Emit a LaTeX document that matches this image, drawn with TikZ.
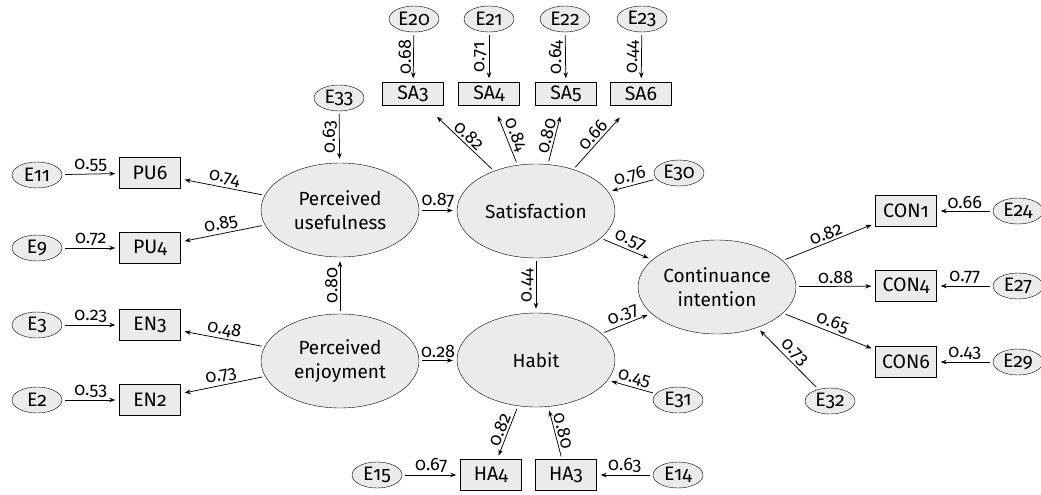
\documentclass[tikz,border=0pt]{standalone}
\usepackage{fontspec}
\setmainfont{Fira Sans}[Numbers=OldStyle]
\usetikzlibrary{arrows.meta,shapes.geometric}
\definecolor{shade}{HTML}{EBEBEB}
\tikzset{
  lat/.style={ellipse, draw, fill=shade, minimum width=158pt, minimum height=94pt, inner sep=0pt, align=center, font=\fontsize{19}{24}\selectfont},
  obs/.style={rectangle, draw, fill=shade, minimum width=61pt, minimum height=31pt, inner sep=0pt, font=\fontsize{19.5}{19.5}\selectfont},
  sobs/.style={obs, minimum height=23pt},
  err/.style={ellipse, draw, fill=shade, minimum width=50pt, minimum height=26pt, inner sep=0pt, font=\fontsize{19.5}{19.5}\selectfont},
  arr/.style={draw, line width=0.75pt, -{Stealth[length=6pt,width=4.5pt]}, shorten >=4pt, shorten <=3pt},
  lab/.style={font=\fontsize{18}{18}\selectfont, inner sep=2pt},
}
\begin{document}
\begin{tikzpicture}[x=1pt,y=-1pt]
\useasboundingbox (0,0) rectangle (1041,495);
% latent
\node[lat] (PU) at (340,210) {Perceived\\usefulness};
\node[lat] (SAT) at (536,211) {Satisfaction};
\node[lat] (CI) at (717,287) {Continuance\\intention};
\node[lat] (PE) at (340,361) {Perceived\\enjoyment};
\node[lat] (HAB) at (536,360) {Habit};
% observed
\node[obs] (PU6) at (150,173) {PU6};
\node[obs] (PU4) at (150,248) {PU4};
\node[obs] (EN3) at (150,325) {EN3};
\node[obs] (EN2) at (150,400) {EN2};
\node[sobs] (SA3) at (413,94) {SA3};
\node[sobs] (SA4) at (489,94) {SA4};
\node[sobs] (SA5) at (566,94) {SA5};
\node[sobs] (SA6) at (641,94) {SA6};
\node[obs] (CON1) at (906,211) {CON1};
\node[obs] (CON4) at (906,286) {CON4};
\node[obs] (CON6) at (906,362) {CON6};
\node[obs] (HA4) at (491,475) {HA4};
\node[obs] (HA3) at (566,475) {HA3};
% errors
\node[err] (E11) at (37,175) {E11};
\node[err] (E9) at (37,248) {E9};
\node[err] (E3) at (37,325) {E3};
\node[err] (E2) at (37,400) {E2};
\node[err] (E33) at (339,98) {E33};
\node[err] (E20) at (414,19) {E20};
\node[err] (E21) at (489,19) {E21};
\node[err] (E22) at (565,19) {E22};
\node[err] (E23) at (642,19) {E23};
\node[err] (E30) at (679,173) {E30};
\node[err] (E31) at (678,400) {E31};
\node[err] (E32) at (830,401) {E32};
\node[err] (E24) at (1018,211) {E24};
\node[err] (E27) at (1018,286) {E27};
\node[err] (E29) at (1018,362) {E29};
\node[err] (E15) at (377,475) {E15};
\node[err] (E14) at (678,475) {E14};
% error arrows
\draw[arr] (E11) -- node[lab,above]{0.55} (PU6);
\draw[arr] (E9) -- node[lab,above]{0.72} (PU4);
\draw[arr] (E3) -- node[lab,above]{0.23} (EN3);
\draw[arr] (E2) -- node[lab,above]{0.53} (EN2);
\draw[arr] (E33) -- node[lab,rotate=90,anchor=south]{0.63} (PU);
\draw[arr] (E20) -- node[lab,rotate=90,anchor=south]{0.68} (SA3);
\draw[arr] (E21) -- node[lab,rotate=90,anchor=south]{0.71} (SA4);
\draw[arr] (E22) -- node[lab,rotate=90,anchor=south]{0.64} (SA5);
\draw[arr] (E23) -- node[lab,rotate=90,anchor=south]{0.44} (SA6);
\draw[arr] (E30) -- node[lab,sloped,above]{0.76} (SAT);
\draw[arr] (E31) -- node[lab,sloped,above]{0.45} (HAB);
\draw[arr] (E32) -- node[lab,sloped,above]{0.73} (CI);
\draw[arr] (E24) -- node[lab,above]{0.66} (CON1);
\draw[arr] (E27) -- node[lab,above]{0.77} (CON4);
\draw[arr] (E29) -- node[lab,above]{0.43} (CON6);
\draw[arr] (E15) -- node[lab,above]{0.67} (HA4);
\draw[arr] (E14) -- node[lab,above]{0.63} (HA3);
% loadings
\draw[arr] (PU) -- node[lab,sloped,above]{0.74} (PU6);
\draw[arr] (PU) -- node[lab,sloped,above]{0.85} (PU4);
\draw[arr] (PE) -- node[lab,sloped,above]{0.48} (EN3);
\draw[arr] (PE) -- node[lab,sloped,above]{0.73} (EN2);
\draw[arr,shorten >=16pt] (SAT) -- node[lab,sloped,above,pos=0.45]{0.82} (SA3);
\draw[arr,shorten >=11pt] (SAT) -- node[lab,sloped,above,pos=0.45]{0.84} (SA4);
\draw[arr,shorten >=11pt] (SAT) -- node[lab,sloped,above,pos=0.45]{0.80} (SA5);
\draw[arr,shorten >=16pt] (SAT) -- node[lab,sloped,above,pos=0.45]{0.66} (SA6);
\draw[arr] (CI) -- node[lab,sloped,above]{0.82} (CON1);
\draw[arr] (CI) -- node[lab,above]{0.88} (CON4);
\draw[arr] (CI) -- node[lab,sloped,above]{0.65} (CON6);
\draw[arr] (HAB) -- node[lab,sloped,above]{0.82} (HA4);
\draw[arr] (HA3) -- node[lab,sloped,above]{0.80} (HAB);
% structural
\draw[arr] (PU) -- node[lab,above]{0.87} (SAT);
\draw[arr] (PE) -- node[lab,above]{0.28} (HAB);
\draw[arr] (PE) -- node[lab,rotate=90,anchor=south]{0.80} (PU);
\draw[arr] (SAT) -- node[lab,rotate=90,anchor=south]{0.44} (HAB);
\draw[arr] (SAT) -- node[lab,sloped,above]{0.57} (CI);
\draw[arr] (HAB) -- node[lab,sloped,above]{0.37} (CI);
\end{tikzpicture}
\end{document}
